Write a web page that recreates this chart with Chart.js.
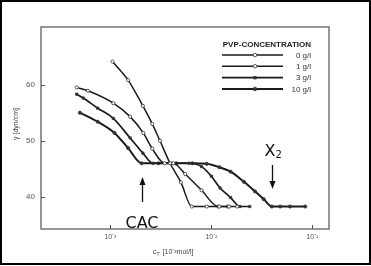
<!DOCTYPE html>
<html>
<head>
<meta charset="utf-8">
<script src="https://cdn.jsdelivr.net/npm/chart.js@4/dist/chart.umd.min.js"></script>
<style>
  html, body { margin: 0; padding: 0; background: #fff; }
  canvas { display: block; }
</style>
</head>
<body>
<canvas id="chart" width="371" height="266"></canvas>
<script>
// surfactant concentration c_T and surface tension gamma for each PVP concentration
const pvpLabels = ['0 g/l', '1 g/l', '3 g/l', '10 g/l'];

const cT_0 = [1.05e-3, 1.5e-3, 2.1e-3, 2.6e-3, 3.1e-3, 3.9e-3, 5.0e-3, 6.4e-3, 9.0e-3, 1.2e-2, 1.5e-2];
const gamma_0 = [64.1, 60.8, 56.2, 53.0, 50.0, 46.0, 42.6, 38.3, 38.3, 38.3, 38.3];

const cT_1 = [4.65e-4, 6.0e-4, 1.07e-3, 1.57e-3, 2.12e-3, 2.6e-3, 3.45e-3, 4.2e-3, 5.5e-3, 8.0e-3, 1.17e-2, 1.45e-2, 1.8e-2];
const gamma_1 = [59.5, 58.9, 56.7, 54.3, 51.4, 48.6, 46.0, 46.0, 44.1, 41.2, 38.3, 38.3, 38.3];

const cT_3 = [4.65e-4, 5.4e-4, 7.5e-4, 1.07e-3, 1.57e-3, 2.1e-3, 2.65e-3, 4.0e-3, 6.0e-3, 8.0e-3, 1.0e-2, 1.22e-2, 1.55e-2, 1.92e-2, 2.4e-2];
const gamma_3 = [58.3, 57.6, 55.8, 54.0, 50.5, 47.8, 46.0, 46.0, 46.0, 45.4, 43.7, 41.6, 39.9, 38.3, 38.3];

const cT_10 = [5.0e-4, 7.5e-4, 1.1e-3, 1.5e-3, 2.04e-3, 3.0e-3, 4.5e-3, 6.5e-3, 9.0e-3, 1.2e-2, 1.55e-2, 2.1e-2, 2.7e-2, 3.3e-2, 3.96e-2, 4.8e-2, 6.0e-2, 8.5e-2];
const gamma_10 = [55.0, 53.4, 51.4, 48.7, 46.0, 46.0, 46.0, 46.0, 45.9, 45.3, 44.5, 42.7, 41.0, 39.6, 38.3, 38.3, 38.3, 38.3];

const xTickValues = [1e-3, 1e-2, 1e-1];
const xTickLabels = ['10\u207B\u00B3', '10\u207B\u00B2', '10\u207B\u00B9'];
const yTickValues = [40, 50, 60];

// marked concentrations
const cacValue = 2.04e-3;
const x2Value = 3.96e-2;

const toPoints = (xs, ys) => xs.map((x, i) => ({ x: x, y: ys[i] }));

const ink = '#1a1a1a';

function serie(label, xs, ys, style, filled, width) {
  return {
    label: label,
    data: toPoints(xs, ys),
    showLine: true,
    cubicInterpolationMode: 'monotone',
    borderColor: ink,
    borderWidth: width,
    pointStyle: style,
    pointRadius: 1.6,
    pointBorderWidth: 0.8,
    pointBorderColor: '#333',
    pointBackgroundColor: filled ? '#333' : '#fff'
  };
}

const decor = {
  id: 'decor',
  afterDraw(chart) {
    const ctx = chart.ctx;
    const a = chart.chartArea;
    const xs = chart.scales.x, ys = chart.scales.y;
    ctx.save();

    // plot frame
    ctx.strokeStyle = '#6a6a6a';
    ctx.lineWidth = 1.4;
    ctx.strokeRect(a.left, a.top, a.right - a.left, a.bottom - a.top);

    // inward tick marks
    ctx.lineWidth = 1;
    ctx.strokeStyle = '#555';
    xTickValues.forEach(v => {
      const px = Math.round(xs.getPixelForValue(v)) + 0.5;
      ctx.beginPath(); ctx.moveTo(px, a.bottom); ctx.lineTo(px, a.bottom - 4); ctx.stroke();
    });
    yTickValues.forEach(v => {
      const py = Math.round(ys.getPixelForValue(v)) + 0.5;
      ctx.beginPath(); ctx.moveTo(a.left, py); ctx.lineTo(a.left + 4, py); ctx.stroke();
    });

    // axis titles
    ctx.fillStyle = '#444';
    ctx.font = '7px "Liberation Sans", Arial, sans-serif';
    ctx.textBaseline = 'alphabetic';
    ctx.save();
    ctx.translate(18, 124);
    ctx.rotate(-Math.PI / 2);
    ctx.textAlign = 'center';
    ctx.fillText('\u03B3 [dyn/cm]', 0, 0);
    ctx.restore();

    ctx.textAlign = 'left';
    let tx = 153;
    ctx.fillText('c', tx, 254);
    tx += ctx.measureText('c').width;
    ctx.font = '5px "Liberation Sans", Arial, sans-serif';
    ctx.fillText('T', tx, 256);
    tx += ctx.measureText('T').width + 3;
    ctx.font = '7px "Liberation Sans", Arial, sans-serif';
    ctx.fillText('[10\u207B\u00B3mol/l]', tx, 254);

    // legend
    ctx.fillStyle = '#222';
    ctx.font = 'bold 8px "Liberation Sans", Arial, sans-serif';
    ctx.textAlign = 'right';
    ctx.textBaseline = 'middle';
    ctx.fillText('PVP-CONCENTRATION', 311, 44.5);
    const rows = [55, 66.3, 77.7, 89];
    ctx.font = '8px "Liberation Sans", Arial, sans-serif';
    chart.data.datasets.forEach((ds, i) => {
      const y = rows[i];
      ctx.strokeStyle = ds.borderColor;
      ctx.lineWidth = ds.borderWidth;
      ctx.beginPath(); ctx.moveTo(222, y); ctx.lineTo(283, y); ctx.stroke();
      ctx.fillStyle = ds.pointBackgroundColor;
      ctx.strokeStyle = ds.pointBorderColor;
      ctx.lineWidth = ds.pointBorderWidth;
      Chart.helpers.drawPoint(ctx, { pointStyle: ds.pointStyle, radius: 1.8, rotation: 0, borderWidth: ds.pointBorderWidth }, 255, y);
      ctx.fillStyle = '#333';
      ctx.fillText(ds.label, 311, y + 0.5);
    });

    // CAC arrow
    const cx = Math.round(xs.getPixelForValue(cacValue)) + 0.5;
    ctx.strokeStyle = '#111';
    ctx.fillStyle = '#111';
    ctx.lineWidth = 1.3;
    ctx.beginPath(); ctx.moveTo(cx, 202); ctx.lineTo(cx, 183); ctx.stroke();
    ctx.beginPath(); ctx.moveTo(cx, 177); ctx.lineTo(cx - 3, 185); ctx.lineTo(cx + 3, 185); ctx.closePath(); ctx.fill();
    ctx.font = '16px "DejaVu Sans", sans-serif';
    ctx.textAlign = 'center';
    ctx.textBaseline = 'alphabetic';
    ctx.fillText('CAC', cx - 0.5, 228);

    // X2 arrow
    const xx = Math.round(xs.getPixelForValue(x2Value)) + 0.5;
    ctx.beginPath(); ctx.moveTo(xx, 165); ctx.lineTo(xx, 183); ctx.stroke();
    ctx.beginPath(); ctx.moveTo(xx, 189); ctx.lineTo(xx - 3, 181); ctx.lineTo(xx + 3, 181); ctx.closePath(); ctx.fill();
    ctx.font = '16px "DejaVu Sans", sans-serif';
    ctx.textAlign = 'left';
    ctx.fillText('X', xx - 8, 156);
    ctx.font = '10px "DejaVu Sans", sans-serif';
    ctx.fillText('2', xx + 3, 158);

    // outer picture border
    ctx.strokeStyle = '#000';
    ctx.lineWidth = 2;
    ctx.strokeRect(1, 1, 369, 263);
    ctx.restore();
  }
};

new Chart(document.getElementById('chart'), {
  type: 'scatter',
  data: {
    datasets: [
      serie(pvpLabels[0], cT_0, gamma_0, 'circle', false, 1.5),
      serie(pvpLabels[1], cT_1, gamma_1, 'circle', false, 1.5),
      serie(pvpLabels[2], cT_3, gamma_3, 'rect', true, 1.7),
      serie(pvpLabels[3], cT_10, gamma_10, 'circle', true, 2)
    ]
  },
  options: {
    responsive: false,
    animation: false,
    layout: { padding: { left: 0, top: 27, right: 42, bottom: 0 } },
    plugins: { legend: { display: false }, tooltip: { enabled: false } },
    scales: {
      x: {
        type: 'logarithmic',
        min: 2.06e-4,
        max: 0.146,
        grid: { display: false, drawTicks: false, tickLength: 0 },
        border: { display: false },
        afterBuildTicks: s => { s.ticks = xTickValues.map(v => ({ value: v })); },
        afterFit: s => { s.height = 37; },
        ticks: {
          autoSkip: false,
          maxRotation: 0,
          padding: 4,
          color: '#555',
          font: { size: 7, family: '"Liberation Sans", Arial, sans-serif' },
          callback: (v, i) => xTickLabels[i]
        }
      },
      y: {
        min: 34.3,
        max: 70.25,
        grid: { display: false, drawTicks: false, tickLength: 0 },
        border: { display: false },
        afterBuildTicks: s => { s.ticks = yTickValues.map(v => ({ value: v })); },
        afterFit: s => { s.width = 41; },
        ticks: {
          padding: 6,
          color: '#555',
          font: { size: 8, family: '"Liberation Sans", Arial, sans-serif' }
        }
      }
    }
  },
  plugins: [decor]
});
</script>
</body>
</html>
